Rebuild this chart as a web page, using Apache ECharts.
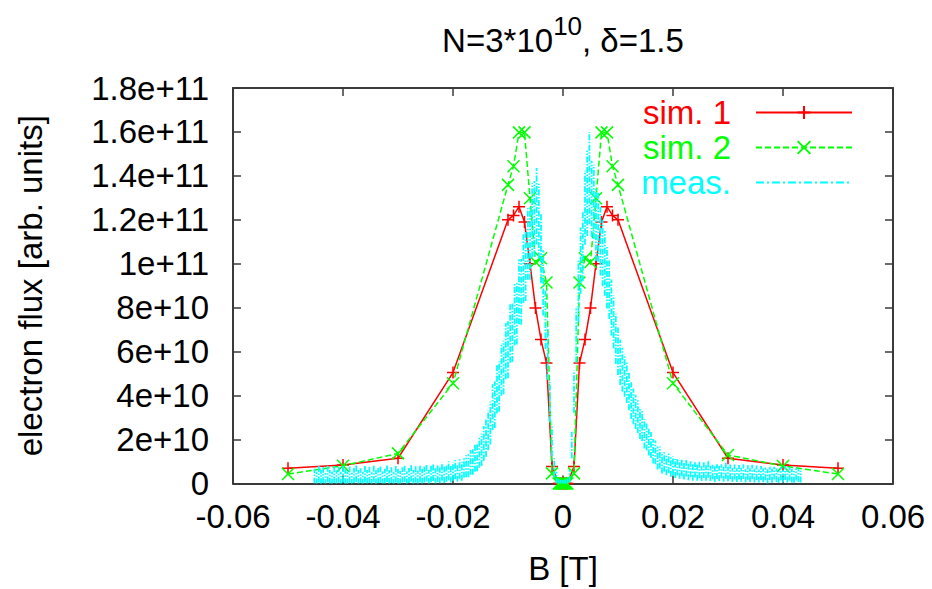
<!DOCTYPE html>
<html><head><meta charset="utf-8">
<script src="https://cdn.jsdelivr.net/npm/echarts@6/dist/echarts.min.js"></script>
<style>html,body{margin:0;padding:0;background:#fff}#c{width:932px;height:589px}</style>
</head><body><div id="c"></div>
<script>
// ---------------- data ----------------
const xTickLabels = ['-0.06','-0.04','-0.02','0','0.02','0.04','0.06'];
const yTickLabels = ['0','2e+10','4e+10','6e+10','8e+10','1e+11','1.2e+11','1.4e+11','1.6e+11','1.8e+11'];

// simulation field values B [T] (shared by sim. 1 and sim. 2)
const simB = [-0.05,-0.04,-0.03,-0.02,-0.01,-0.009,-0.008,-0.007,-0.006,-0.005,-0.004,-0.003,-0.002,
  -0.0008,-0.0006,-0.0004,-0.0002,0,0.0002,0.0004,0.0006,0.0008,
  0.002,0.003,0.004,0.005,0.006,0.007,0.008,0.009,0.01,0.02,0.03,0.04,0.05];
const sim1 = [0.69e10,0.84e10,1.15e10,5.05e10,12.0e10,12.2e10,12.6e10,11.9e10,10.0e10,7.99e10,6.55e10,5.48e10,0.77e10,
  0,0,0,0,0,0,0,0,0,
  0.77e10,5.48e10,6.55e10,7.99e10,10.0e10,11.9e10,12.6e10,12.2e10,12.0e10,5.05e10,1.15e10,0.84e10,0.69e10];
const sim2 = [0.43e10,0.81e10,1.37e10,4.56e10,13.59e10,14.44e10,15.98e10,15.98e10,12.98e10,10.08e10,10.25e10,9.15e10,0.46e10,
  0,0,0,0,0,0,0,0,0,
  0.46e10,9.15e10,10.25e10,10.08e10,12.98e10,15.98e10,15.98e10,14.44e10,13.59e10,4.56e10,1.30e10,0.80e10,0.43e10];

// measurement: B [T], flux and error (both in units of 1e9)
const measB = [
-0.0452,-0.0448,-0.0444,-0.0440,-0.0436,-0.0432,-0.0428,-0.0424,-0.0420,-0.0416,
-0.0412,-0.0408,-0.0404,-0.0400,-0.0396,-0.0392,-0.0388,-0.0384,-0.0380,-0.0376,
-0.0372,-0.0368,-0.0364,-0.0360,-0.0356,-0.0352,-0.0348,-0.0344,-0.0340,-0.0336,
-0.0332,-0.0328,-0.0324,-0.0320,-0.0316,-0.0312,-0.0308,-0.0304,-0.0300,-0.0296,
-0.0292,-0.0288,-0.0284,-0.0280,-0.0276,-0.0272,-0.0268,-0.0264,-0.0260,-0.0256,
-0.0252,-0.0248,-0.0244,-0.0240,-0.0236,-0.0232,-0.0228,-0.0224,-0.0220,-0.0216,
-0.0212,-0.0208,-0.0204,-0.0200,-0.0196,-0.0192,-0.0188,-0.0184,-0.0180,-0.0176,
-0.0172,-0.0168,-0.0164,-0.0160,-0.0156,-0.0152,-0.0148,-0.0144,-0.0140,-0.0136,
-0.0132,-0.0128,-0.0124,-0.0120,-0.0116,-0.0112,-0.0108,-0.0104,-0.0100,-0.0096,
-0.0092,-0.0088,-0.0084,-0.0080,-0.0076,-0.0072,-0.0068,-0.0064,-0.0060,-0.0056,
-0.0052,-0.0048,-0.0044,-0.0040,-0.0036,-0.0032,-0.0028,-0.0024,-0.0020,-0.0016,
-0.0012,-0.0008,-0.0004,0.0000,0.0004,0.0008,0.0012,0.0016,0.0020,0.0024,
0.0028,0.0032,0.0036,0.0040,0.0044,0.0048,0.0052,0.0056,0.0060,0.0064,
0.0068,0.0072,0.0076,0.0080,0.0084,0.0088,0.0092,0.0096,0.0100,0.0104,
0.0108,0.0112,0.0116,0.0120,0.0124,0.0128,0.0132,0.0136,0.0140,0.0144,
0.0148,0.0152,0.0156,0.0160,0.0164,0.0168,0.0172,0.0176,0.0180,0.0184,
0.0188,0.0192,0.0196,0.0200,0.0204,0.0208,0.0212,0.0216,0.0220,0.0224,
0.0228,0.0232,0.0236,0.0240,0.0244,0.0248,0.0252,0.0256,0.0260,0.0264,
0.0268,0.0272,0.0276,0.0280,0.0284,0.0288,0.0292,0.0296,0.0300,0.0304,
0.0308,0.0312,0.0316,0.0320,0.0324,0.0328,0.0332,0.0336,0.0340,0.0344,
0.0348,0.0352,0.0356,0.0360,0.0364,0.0368,0.0372,0.0376,0.0380,0.0384,
0.0388,0.0392,0.0396,0.0400,0.0404,0.0408,0.0412,0.0416,0.0420,0.0424,
0.0428,0.0432];
const measFlux = [
3.4,2.4,4.3,2.9,3.8,2.0,4.6,3.0,2.4,4.1,
2.8,3.9,2.3,4.4,3.1,2.5,4.0,2.1,3.6,4.7,
2.9,3.5,2.4,4.3,3.0,3.9,2.2,4.5,2.8,3.6,
4.0,2.5,3.3,4.6,2.9,3.8,2.3,4.2,3.2,2.6,
3.9,4.5,2.5,3.6,4.8,3.0,4.1,2.8,4.4,3.3,
4.1,4.9,3.0,4.4,5.2,3.4,4.6,3.7,5.4,4.0,
4.6,5.8,4.2,5.4,6.3,4.9,6.8,5.6,7.4,7.9,
8.1,9.6,9.8,11.5,12.1,14.2,15.4,18.3,20.6,24.1,
27.5,34.8,35.9,43.2,44.1,51.9,52.8,60.3,60.9,68.4,
68.9,76.9,77.6,87.3,87.2,97.8,98.9,109.0,109.1,119.8,
120.5,126.2,119.4,107.1,91.3,74.6,59.2,37.5,19.6,7.2,
2.6,0.9,0.4,0.3,0.5,1.0,3.4,17.5,41.8,67.3,
87.6,101.4,107.9,125.5,132.1,139.0,129.6,128.2,117.7,116.9,
110.3,104.8,100.2,93.6,88.4,80.1,73.5,65.8,60.2,55.1,
51.8,49.1,45.9,42.2,37.7,35.1,32.6,30.4,27.5,26.3,
22.6,21.4,18.8,17.5,14.7,14.2,11.6,11.8,9.4,10.1,
8.3,9.2,7.6,8.1,6.8,7.6,6.4,7.2,5.9,7.0,
5.4,6.5,5.1,6.2,4.9,6.3,4.5,6.1,4.8,6.4,
4.6,5.2,4.3,5.4,4.5,5.6,4.2,5.8,4.3,5.3,
3.9,5.2,3.8,5.1,4.0,5.4,3.5,5.0,3.8,5.2,
3.6,4.9,3.4,4.8,3.7,4.4,3.2,4.6,3.5,4.7,
3.8,3.1,4.5,3.3,4.8,3.2,4.4,3.6,3.0,4.3,
3.6,3.1];
const measErr = [
3.4,2.9,3.9,3.2,3.7,2.8,4.0,3.1,3.0,3.8,
3.1,3.6,2.9,3.9,3.4,3.0,3.7,2.8,3.5,4.0,
3.2,3.4,3.0,3.8,3.1,3.7,2.9,3.9,3.2,3.5,
3.7,3.0,3.4,3.9,3.1,3.6,2.9,3.8,3.4,3.1,
3.5,3.9,3.0,3.4,4.0,3.2,3.7,3.1,3.8,3.4,
3.6,4.0,3.2,3.8,4.1,3.5,3.9,3.6,4.2,3.8,
3.9,4.3,3.8,4.2,4.4,4.1,4.6,4.3,4.8,5.0,
5.2,5.6,5.8,6.2,6.5,7.0,7.4,7.9,8.5,9.0,
9.8,10.4,10.6,11.2,11.4,12.0,12.2,12.8,13.0,13.5,
13.6,14.1,14.3,14.8,15.0,15.6,15.8,16.3,16.4,16.9,
17.2,17.4,17.0,16.0,14.8,13.4,12.0,9.6,7.2,4.4,
2.8,1.6,1.2,1.2,1.3,1.6,2.8,6.0,9.6,12.4,
14.2,15.1,15.8,16.8,19.5,21.0,17.3,16.9,16.4,16.0,
15.6,15.0,14.7,14.0,13.5,12.7,12.1,11.4,10.8,10.3,
10.0,9.6,9.3,8.9,8.4,8.1,7.8,7.5,7.2,7.0,
6.7,6.4,6.1,5.9,5.6,5.4,5.2,5.0,4.8,4.7,
4.6,4.4,4.5,4.2,4.3,4.0,4.2,3.9,4.1,3.8,
3.9,3.6,3.8,3.5,3.7,3.9,3.4,3.6,3.5,3.8,
3.5,3.3,3.6,3.4,3.5,3.2,3.4,3.6,3.3,3.4,
3.2,3.4,3.1,3.3,3.2,3.4,3.0,3.3,3.1,3.3,
3.1,3.3,3.0,3.2,3.1,2.9,3.3,3.0,3.2,2.9,
3.1,2.8,3.0,2.9,3.2,2.8,3.0,3.1,2.7,2.9,
2.9,2.7];
const MEAS_UNIT = 1e9;

// ---------------- chart ----------------
const FONT = 'Liberation Sans, Arial, Helvetica, sans-serif';
const FS = 33;
const RED = '#ff0000', GREEN = '#00ff00', CYAN = '#00ffff';
const AXC = '#3a3a3a';

const sim1Data = simB.map((b, i) => [b, sim1[i]]);
const sim2Data = simB.map((b, i) => [b, sim2[i]]);
const measData = measB.map((b, i) => [b, measFlux[i] * MEAS_UNIT, measErr[i] * MEAS_UNIT]);

const plusPath = 'path://M0,5L10,5M5,0L5,10';
const crossPath = 'path://M0,0L10,10M10,0L0,10';

const chart = echarts.init(document.getElementById('c'), null, {renderer: 'svg'});

const axisCommonX = {
  type: 'value', min: -0.06, max: 0.06, interval: 0.02,
  axisLine: {show: true, onZero: false, lineStyle: {color: AXC, width: 2}},
  axisTick: {show: true, inside: true, length: 8, lineStyle: {color: AXC, width: 1.5}},
  splitLine: {show: false}
};
const axisCommonY = {
  type: 'value', min: 0, max: 1.8e11, interval: 2e10,
  axisLine: {show: true, onZero: false, lineStyle: {color: AXC, width: 2}},
  axisTick: {show: true, inside: true, length: 8, lineStyle: {color: AXC, width: 1.5}},
  splitLine: {show: false}
};

chart.setOption({
  animation: false,
  backgroundColor: '#fff',
  textStyle: {fontFamily: FONT},
  grid: {left: 233, right: 39, top: 88, bottom: 105.5, containLabel: false, outerBoundsMode: 'none'},
  graphic: [{
    type: 'text', x: 563, y: 57, z: 100,
    style: {
      text: '{n|N=3*10}{sup|10}{n|, δ=1.5}',
      align: 'center', verticalAlign: 'bottom',
      fill: '#000', fontFamily: FONT, fontSize: FS,
      rich: {
        n: {fontSize: FS, fontFamily: FONT, lineHeight: 33, verticalAlign: 'bottom', fill: '#000'},
        sup: {fontSize: 26, fontFamily: FONT, lineHeight: 26, verticalAlign: 'bottom', padding: [0, 0, 18, 0], fill: '#000'}
      }
    }
  }],
  legend: {
    orient: 'vertical', right: 79, top: 96, align: 'right', padding: 0,
    itemWidth: 96, itemHeight: 16, itemGap: 2, selectedMode: false,
    textStyle: {fontSize: FS, lineHeight: 33, fontFamily: FONT, padding: [0, 20, 0, 0]},
    data: [
      {name: 'sim. 1', textStyle: {color: RED}},
      {name: 'sim. 2', textStyle: {color: GREEN}},
      {name: 'meas.', textStyle: {color: CYAN}}
    ]
  },
  xAxis: [
    Object.assign({}, axisCommonX, {
      position: 'bottom', name: 'B [T]', nameLocation: 'middle', nameGap: 68,
      nameTextStyle: {fontSize: FS, color: '#000', fontFamily: FONT},
      axisLabel: {margin: 16, fontSize: FS, color: '#000', fontFamily: FONT,
        formatter: (v, i) => xTickLabels[i]}
    }),
    Object.assign({}, axisCommonX, {position: 'top', axisLabel: {show: false}})
  ],
  yAxis: [
    Object.assign({}, axisCommonY, {
      position: 'left', name: 'electron flux [arb. units]', nameLocation: 'middle', nameGap: 186,
      nameRotate: 90,
      nameTextStyle: {fontSize: FS, color: '#000', fontFamily: FONT},
      axisLabel: {margin: 24, fontSize: FS, color: '#000', fontFamily: FONT,
        formatter: (v, i) => yTickLabels[i]}
    }),
    Object.assign({}, axisCommonY, {position: 'right', axisLabel: {show: false}})
  ],
  series: [
    {
      name: 'sim. 1', type: 'line', data: sim1Data, z: 2,
      symbol: plusPath, symbolSize: 12,
      lineStyle: {color: RED, width: 1.5, type: 'solid'},
      itemStyle: {color: RED, borderColor: RED, borderWidth: 1.5},
      emphasis: {disabled: true}
    },
    {
      name: 'sim. 2', type: 'line', data: sim2Data, z: 3,
      symbol: crossPath, symbolSize: 12,
      lineStyle: {color: GREEN, width: 1.5, type: [6, 3]},
      itemStyle: {color: GREEN, borderColor: GREEN, borderWidth: 1.5},
      emphasis: {disabled: true}
    },
    {
      name: 'meas.', type: 'line', data: [], symbol: 'none',
      lineStyle: {color: CYAN, width: 1.5, type: [8, 3, 2, 3]},
      itemStyle: {color: 'transparent', borderColor: 'transparent', borderWidth: 0}
    },
    {
      name: 'meas. errorbars', type: 'custom', z: 4, clip: true,
      data: measData,
      encode: {x: 0, y: 1},
      renderItem: (params, api) => {
        const x = api.value(0), y = api.value(1), e = api.value(2);
        const p1 = api.coord([x, y - e]);
        const p2 = api.coord([x, y + e]);
        return {
          type: 'line',
          shape: {x1: p1[0], y1: p1[1], x2: p2[0], y2: p2[1]},
          style: {stroke: CYAN, lineWidth: 1.8, lineDash: [6, 1.5, 1.5, 1.5]}
        };
      }
    }
  ]
});
</script>
</body></html>
